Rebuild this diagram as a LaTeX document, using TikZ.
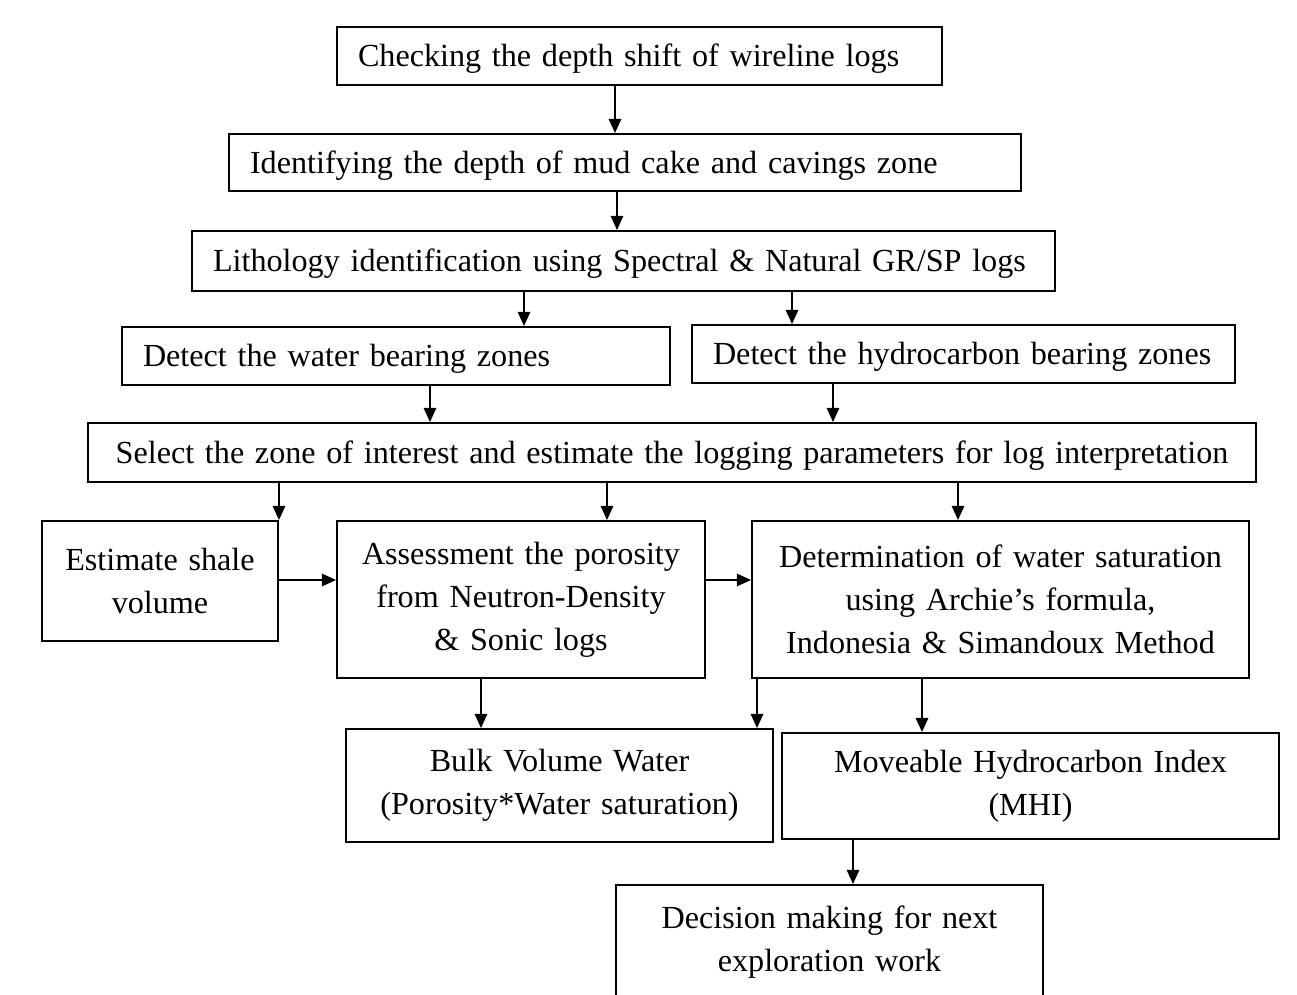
\documentclass[tikz,border=0pt]{standalone}
\usepackage{fontspec}
\setmainfont[WordSpace=0.8]{Liberation Serif}
\usetikzlibrary{arrows.meta}
\begin{document}
\begin{tikzpicture}[
	box/.style={draw=black, line width=1.1pt, inner ysep=0pt, font=\fontsize{18.3}{24.5}\selectfont},
	stage/.style={box, inner xsep=0.42cm, align=left, text height=0.6cm, text depth=0.18cm},
	stack/.style={box, inner xsep=0.1cm, align=center},
	flow/.style={line width=1.1pt, -{Triangle[length=8pt,width=7pt]}}
	]
	\useasboundingbox (0,0) rectangle (25.94,-19.88);
	\node [stage, text width=11.26cm, minimum height=1.16cm] (check) at (12.79,-1.12) {Checking the depth shift of wireline logs};
	\node [stage, text width=15cm, minimum height=1.14cm] (mud) at (12.5,-3.25) {Identifying the depth of mud cake and cavings zone};
	\node [stage, text width=16.42cm, minimum height=1.2cm] (litho) at (12.47,-5.22) {Lithology identification using Spectral \& Natural GR/SP logs};
	\node [stage, text width=10.12cm, minimum height=1.16cm] (water) at (7.92,-7.12) {Detect the water bearing zones};
	\node [stage, text width=10.02cm, minimum height=1.16cm] (hydro) at (19.27,-7.08) {Detect the hydrocarbon bearing zones};
	\node [stage, inner xsep=0.2cm, text width=22.96cm, minimum height=1.18cm, align=center] (select) at (13.44,-9.05) {Select the zone of interest and estimate the logging parameters for log interpretation};
	\node [stack, text width=4.52cm, minimum height=2.4cm] (shale) at (3.2,-11.62) {Estimate shale\\volume};
	\node [stack, text width=7.16cm, minimum height=3.14cm] (poro) at (10.42,-11.99) {Assessment the porosity\\from Neutron-Density\\\& Sonic logs};
	\node [stack, text width=9.74cm, minimum height=3.14cm] (sat) at (20.01,-11.99) {Determination of water saturation\\using Archie's formula,\\Indonesia \& Simandoux Method};
	\node [stack, text width=8.34cm, minimum height=2.26cm] (bvw) at (11.19,-15.71) {Bulk Volume Water\\(Porosity*Water saturation)};
	\node [stack, text width=9.74cm, minimum height=2.12cm] (mhi) at (20.61,-15.72) {Moveable Hydrocarbon Index\\(MHI)};
	\node [stack, text width=8.34cm, minimum height=2.3cm] (decide) at (16.59,-18.85) {Decision making for next\\exploration work};
	\draw [flow] (check.south -| 12.3,0) -- (mud.north -| 12.3,0);
	\draw [flow] (mud.south -| 12.34,0) -- (litho.north -| 12.34,0);
	\draw [flow] (litho.south -| 10.48,0) -- (water.north -| 10.48,0);
	\draw [flow] (litho.south -| 15.84,0) -- (hydro.north -| 15.84,0);
	\draw [flow] (water.south -| 8.6,0) -- (select.north -| 8.6,0);
	\draw [flow] (hydro.south -| 16.66,0) -- (select.north -| 16.66,0);
	\draw [flow] (select.south -| shale.north east) -- (shale.north east);
	\draw [flow] (select.south -| 12.14,0) -- (poro.north -| 12.14,0);
	\draw [flow] (select.south -| 19.16,0) -- (sat.north -| 19.16,0);
	\draw [flow] (shale.east |- 0,-11.6) -- (poro.west |- 0,-11.6);
	\draw [flow] (poro.east |- 0,-11.6) -- (sat.west |- 0,-11.6);
	\draw [flow] (poro.south -| 9.62,0) -- (bvw.north -| 9.62,0);
	\draw [flow] (sat.south -| 15.14,0) -- (bvw.north -| 15.14,0);
	\draw [flow] (sat.south -| 18.44,0) -- (mhi.north -| 18.44,0);
	\draw [flow] (mhi.south -| 17.06,0) -- (decide.north -| 17.06,0);
\end{tikzpicture}
\end{document}
